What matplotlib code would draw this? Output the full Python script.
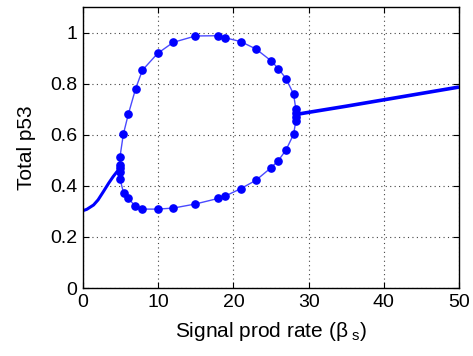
import matplotlib
matplotlib.use("Agg")
import matplotlib.pyplot as plt

plt.rcParams["font.family"] = ["Liberation Sans", "DejaVu Sans"]
plt.rcParams["mathtext.fontset"] = "custom"
plt.rcParams["mathtext.rm"] = "Liberation Sans"
plt.rcParams["mathtext.it"] = "Liberation Sans"

# stable steady state (thick line), left and right of the oscillatory window
ss_left_beta = [0.0, 0.5, 1.4, 2.0, 2.7, 3.4, 4.0, 4.5, 4.85]
ss_left_p53 = [0.303, 0.308, 0.325, 0.345, 0.377, 0.410, 0.436, 0.455, 0.465]
ss_right_beta = [28.4, 30.0, 35.0, 40.0, 45.0, 50.0]
ss_right_p53 = [0.680, 0.688, 0.712, 0.737, 0.762, 0.787]

# limit cycle: maxima and minima of total p53
max_beta = [4.92, 4.92, 4.92, 5.36, 6.02, 7.0, 7.9, 9.93, 12.0, 14.95, 18.0, 18.9, 20.97, 23.0, 25.0, 25.97, 27.0, 28.0, 28.3, 28.3]
max_p53 = [0.469, 0.482, 0.514, 0.602, 0.680, 0.781, 0.853, 0.919, 0.962, 0.987, 0.988, 0.980, 0.965, 0.936, 0.890, 0.859, 0.820, 0.759, 0.700, 0.684]
min_beta = [4.92, 4.92, 5.4, 6.0, 6.95, 7.9, 9.95, 12.0, 14.95, 18.0, 18.9, 20.97, 23.0, 25.0, 25.97, 27.0, 28.0, 28.3, 28.3]
min_p53 = [0.456, 0.427, 0.371, 0.351, 0.321, 0.309, 0.309, 0.313, 0.329, 0.351, 0.360, 0.389, 0.422, 0.471, 0.499, 0.541, 0.602, 0.655, 0.668]

xticks = [0, 10, 20, 30, 40, 50]
yticks = [0, 0.2, 0.4, 0.6, 0.8, 1.0]
ytick_labels = ["0", "0.2", "0.4", "0.6", "0.8", "1"]

fig = plt.figure(figsize=(4.73, 3.56), dpi=100)
ax = fig.add_axes([0.1755, 0.191, 0.795, 0.789])

ax.plot(ss_left_beta, ss_left_p53, color="#0000ff", lw=2.2, solid_capstyle="butt")
ax.plot(ss_right_beta, ss_right_p53, color="#0000ff", lw=2.6, solid_capstyle="butt")

loop_beta = max_beta + min_beta[::-1] + [max_beta[0]]
loop_p53 = max_p53 + min_p53[::-1] + [max_p53[0]]
ax.plot(loop_beta, loop_p53, color="#4a4aff", lw=1.0)
ax.plot(max_beta + min_beta, max_p53 + min_p53, ls="none", marker="o",
        ms=5.2, color="#0000ff", mec="#0000ff")

ax.set_xlim(0, 50)
ax.set_ylim(0, 1.1)
ax.set_xticks(xticks)
ax.set_yticks(yticks)
ax.set_yticklabels(ytick_labels)
ax.grid(True, ls=(0, (1, 3)), color="#444444", lw=0.8)
ax.tick_params(direction="in", top=True, right=True, labelsize=14, length=4, pad=4)
for s in ax.spines.values():
    s.set_linewidth(1.0)

ax.set_xlabel(r"Signal prod rate ($\beta_{\ s}$)", fontsize=15, labelpad=7)
ax.set_ylabel("Total p53", fontsize=15, labelpad=10)

fig.savefig("out.png", dpi=100)
